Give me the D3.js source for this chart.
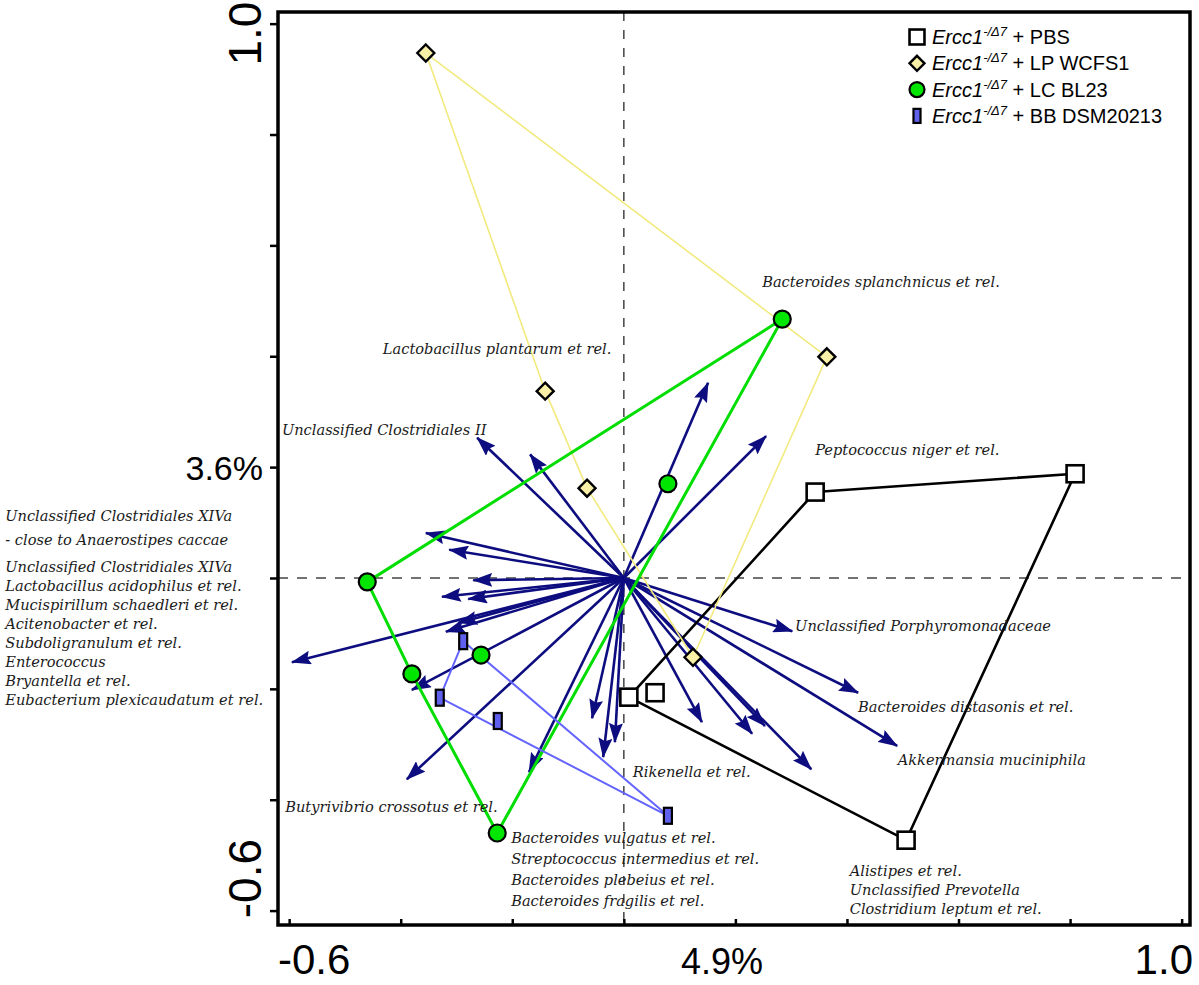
<!DOCTYPE html>
<html lang="en">
<head>
    <meta charset="UTF-8">
    <title>Biplot</title>
    <script src="https://d3js.org/d3.v7.min.js"></script>
    <style>
        body { margin: 0; background: #fff; }
        .lbl { font-family: "DejaVu Serif", serif; font-style: italic; font-size: 14.6px; fill: #1a1a1a; }
        .tick-lbl { font-family: "Liberation Sans", Arial, sans-serif; fill: #000; }
        .legend-text { font-family: "Liberation Sans", Arial, sans-serif; font-size: 20px; fill: #000; }
    </style>
</head>
<body>
    <script>
        // axis ticks and labels
        const tickValues = [-0.6, -0.4, -0.2, 0, 0.2, 0.4, 0.6, 0.8, 1.0];
        const xTickLabels = ["-0.6", "1.0"];
        const yTickLabels = ["1.0", "-0.6"];
        const xAxisTitle = "4.9%";
        const yAxisTitle = "3.6%";

        // species vectors (arrow tips, origin at 0,0)
        const arrowX = [-0.263, -0.168, 0.151, 0.255, -0.355, -0.313, -0.270, -0.326, -0.279,
                        -0.297, -0.319, -0.595, -0.380, -0.389, -0.170, -0.057, -0.037, -0.016,
                        0.140, 0.230, 0.253, 0.336, 0.302, 0.420, 0.490];
        const arrowY = [0.253, 0.223, 0.352, 0.256, 0.081, 0.051, -0.004, -0.034, -0.038,
                        -0.081, -0.097, -0.152, -0.202, -0.363, -0.350, -0.253, -0.323, -0.296,
                        -0.260, -0.281, -0.267, -0.345, -0.096, -0.207, -0.303];

        // samples per group
        const groups = ["PBS", "LP WCFS1", "LC BL23", "BB DSM20213"];
        const pbsX = [0.343, 0.809, 0.506, 0.009, 0.056];
        const pbsY = [0.155, 0.188, -0.473, -0.215, -0.207];
        const lpX = [-0.355, 0.364, -0.141, -0.066, 0.124];
        const lpY = [0.947, 0.399, 0.337, 0.162, -0.143];
        const lcX = [0.284, 0.079, -0.460, -0.256, -0.380, -0.227];
        const lcY = [0.467, 0.170, -0.007, -0.139, -0.173, -0.460];
        const bbX = [-0.288, -0.330, -0.226, 0.079];
        const bbY = [-0.114, -0.216, -0.258, -0.429];

        // species labels
        const labelText = [
            ["Bacteroides splanchnicus et rel."],
            ["Lactobacillus plantarum et rel."],
            ["Unclassified Clostridiales II"],
            ["Peptococcus niger et rel."],
            ["Unclassified Porphyromonadaceae"],
            ["Bacteroides distasonis et rel."],
            ["Akkermansia muciniphila"],
            ["Rikenella et rel."],
            ["Butyrivibrio crossotus et rel."],
            ["Bacteroides vulgatus et rel.", "Streptococcus intermedius et rel.",
             "Bacteroides plebeius et rel.", "Bacteroides fragilis et rel."],
            ["Alistipes et rel.", "Unclassified Prevotella", "Clostridium leptum et rel."],
            ["Unclassified Clostridiales XIVa", "- close to Anaerostipes caccae"],
            ["Unclassified Clostridiales XIVa", "Lactobacillus acidophilus et rel.",
             "Mucispirillum schaedleri et rel.", "Acitenobacter et rel.",
             "Subdoligranulum et rel.", "Enterococcus", "Bryantella et rel.",
             "Eubacterium plexicaudatum et rel."]
        ];
        const labelX = [0.248, -0.432, -0.613, 0.343, 0.307, 0.420, 0.491, 0.016, -0.607,
                        -0.202, 0.405, -1.109, -1.109];
        const labelY = [0.525, 0.404, 0.258, 0.222, -0.096, -0.242, -0.337, -0.359, -0.422,
                        -0.478, -0.538, 0.103, 0.011];
        const labelGap = [0, 0, 0, 0, 0, 0, 0, 0, 0, 21, 19, 24, 19];

        const width = 1199, height = 985;
        const svg = d3.select("body").append("svg")
            .attr("width", width)
            .attr("height", height);

        const x = d3.scaleLinear().domain([-0.62, 1.015]).range([278, 1190]);
        const y = d3.scaleLinear().domain([-0.626, 1.021]).range([925, 12]);

        const navy = "#0d0d80";
        svg.append("defs").append("marker")
            .attr("id", "head")
            .attr("viewBox", "0 -7 20 14")
            .attr("refX", 19)
            .attr("refY", 0)
            .attr("markerUnits", "userSpaceOnUse")
            .attr("markerWidth", 20)
            .attr("markerHeight", 14)
            .attr("orient", "auto")
            .append("path")
            .attr("d", "M0,-7L20,0L0,7L3,0Z")
            .attr("fill", navy);

        // dashed zero lines
        svg.append("line")
            .attr("x1", x.range()[0]).attr("x2", x.range()[1])
            .attr("y1", y(0)).attr("y2", y(0))
            .attr("stroke", "#444").attr("stroke-width", 1.5)
            .attr("stroke-dasharray", "10,9");
        svg.append("line")
            .attr("x1", x(0)).attr("x2", x(0))
            .attr("y1", y.range()[1]).attr("y2", y.range()[0])
            .attr("stroke", "#444").attr("stroke-width", 1.5)
            .attr("stroke-dasharray", "9,9");

        // arrows
        svg.append("g").selectAll("line")
            .data(arrowX.map((d, i) => [d, arrowY[i]]))
            .join("line")
            .attr("x1", x(0)).attr("y1", y(0))
            .attr("x2", d => x(d[0])).attr("y2", d => y(d[1]))
            .attr("stroke", navy)
            .attr("stroke-width", 2.6)
            .attr("marker-end", "url(#head)");

        const groupStyle = [
            { line: "#000000", lw: 2.6, fill: "#ffffff", shape: "square" },
            { line: "#f2ea7e", lw: 1.6, fill: "#f8f0a6", shape: "diamond" },
            { line: "#00dd00", lw: 3, fill: "#00e600", shape: "circle" },
            { line: "#6464ff", lw: 2, fill: "#6060ee", shape: "rect" }
        ];
        const groupPts = [
            pbsX.map((d, i) => [d, pbsY[i]]),
            lpX.map((d, i) => [d, lpY[i]]),
            lcX.map((d, i) => [d, lcY[i]]),
            bbX.map((d, i) => [d, bbY[i]])
        ];

        // hulls
        groupPts.forEach((pts, gi) => {
            const hull = d3.polygonHull(pts.map(p => [x(p[0]), y(p[1])]));
            svg.append("path")
                .attr("d", "M" + hull.join("L") + "Z")
                .attr("fill", "none")
                .attr("stroke", groupStyle[gi].line)
                .attr("stroke-width", groupStyle[gi].lw)
                .attr("stroke-linejoin", "round");
        });

        function drawMarker(g, shape, fill, big) {
            const k = big ? 1 : 0.88;
            if (shape === "square") {
                const s = 17 * k;
                g.append("rect").attr("x", -s / 2).attr("y", -s / 2).attr("width", s).attr("height", s)
                    .attr("fill", fill).attr("stroke", "#000").attr("stroke-width", 2.6);
            } else if (shape === "diamond") {
                const s = 8.5 * k;
                g.append("path").attr("d", `M0,${-s}L${s},0L0,${s}L${-s},0Z`)
                    .attr("fill", fill).attr("stroke", "#000").attr("stroke-width", 2.4);
            } else if (shape === "circle") {
                g.append("circle").attr("r", 8.5 * k)
                    .attr("fill", fill).attr("stroke", "#000").attr("stroke-width", 2.2);
            } else {
                g.append("rect").attr("x", -4 * k).attr("y", -8 * k).attr("width", 8 * k).attr("height", 16 * k)
                    .attr("fill", fill).attr("stroke", "#000").attr("stroke-width", 2.2);
            }
        }

        // sample markers
        groupPts.forEach((pts, gi) => {
            pts.forEach(p => {
                const g = svg.append("g").attr("transform", `translate(${x(p[0])},${y(p[1])})`);
                drawMarker(g, groupStyle[gi].shape, groupStyle[gi].fill, true);
            });
        });

        // species labels
        labelText.forEach((lines, i) => {
            const t = svg.append("text")
                .attr("class", "lbl")
                .attr("x", x(labelX[i]))
                .attr("y", y(labelY[i]));
            lines.forEach((ln, j) => {
                t.append("tspan")
                    .attr("x", x(labelX[i]))
                    .attr("dy", j === 0 ? 0 : labelGap[i])
                    .text(ln);
            });
        });

        // frame
        svg.append("rect")
            .attr("x", x.range()[0]).attr("y", y.range()[1])
            .attr("width", x.range()[1] - x.range()[0])
            .attr("height", y.range()[0] - y.range()[1])
            .attr("fill", "none")
            .attr("stroke", "#000")
            .attr("stroke-width", 3.5);

        // axes ticks
        const xAxis = svg.append("g")
            .attr("transform", `translate(0,${y.range()[0]})`)
            .call(d3.axisBottom(x).tickValues(tickValues).tickSize(-6).tickFormat(""));
        const yAxis = svg.append("g")
            .attr("transform", `translate(${x.range()[0]},0)`)
            .call(d3.axisLeft(y).tickValues(tickValues).tickSize(8).tickFormat(""));
        [xAxis, yAxis].forEach(a => {
            a.select(".domain").remove();
            a.selectAll(".tick line").attr("stroke", "#000").attr("stroke-width", 2.5);
        });

        // tick labels
        svg.append("text").attr("class", "tick-lbl")
            .attr("x", x.range()[0]).attr("y", 974)
            .attr("font-size", 42).attr("text-anchor", "start")
            .text(xTickLabels[0]);
        svg.append("text").attr("class", "tick-lbl")
            .attr("x", x.range()[1] + 3).attr("y", 974)
            .attr("font-size", 42).attr("text-anchor", "end")
            .text(xTickLabels[1]);
        svg.append("text").attr("class", "tick-lbl")
            .attr("x", (x.range()[0] + x.range()[1]) / 2 - 12).attr("y", 974)
            .attr("font-size", 36).attr("text-anchor", "middle")
            .text(xAxisTitle);

        svg.append("text").attr("class", "tick-lbl")
            .attr("transform", `translate(261,${y(1.0) + 10}) rotate(-90)`)
            .attr("font-size", 46).attr("text-anchor", "middle")
            .text(yTickLabels[0]);
        svg.append("text").attr("class", "tick-lbl")
            .attr("transform", `translate(261,${y(-0.6) - 32}) rotate(-90)`)
            .attr("font-size", 46).attr("text-anchor", "middle")
            .text(yTickLabels[1]);
        svg.append("text").attr("class", "tick-lbl")
            .attr("x", 263).attr("y", y(0.2) + 13)
            .attr("font-size", 34).attr("text-anchor", "end")
            .text(yAxisTitle);

        // legend
        const legend = svg.append("g").attr("transform", "translate(917,37)");
        groups.forEach((name, i) => {
            const row = legend.append("g").attr("transform", `translate(0,${i * 26.3})`);
            drawMarker(row, groupStyle[i].shape, groupStyle[i].fill, false);
            const t = row.append("text").attr("class", "legend-text").attr("x", 15).attr("y", 7);
            t.append("tspan").attr("font-style", "italic").text("Ercc1");
            t.append("tspan").attr("font-style", "italic").attr("font-size", 13).attr("dy", -8).text("-/\u03947");
            t.append("tspan").attr("dy", 8).text(" + " + name);
        });
    </script>
</body>
</html>
